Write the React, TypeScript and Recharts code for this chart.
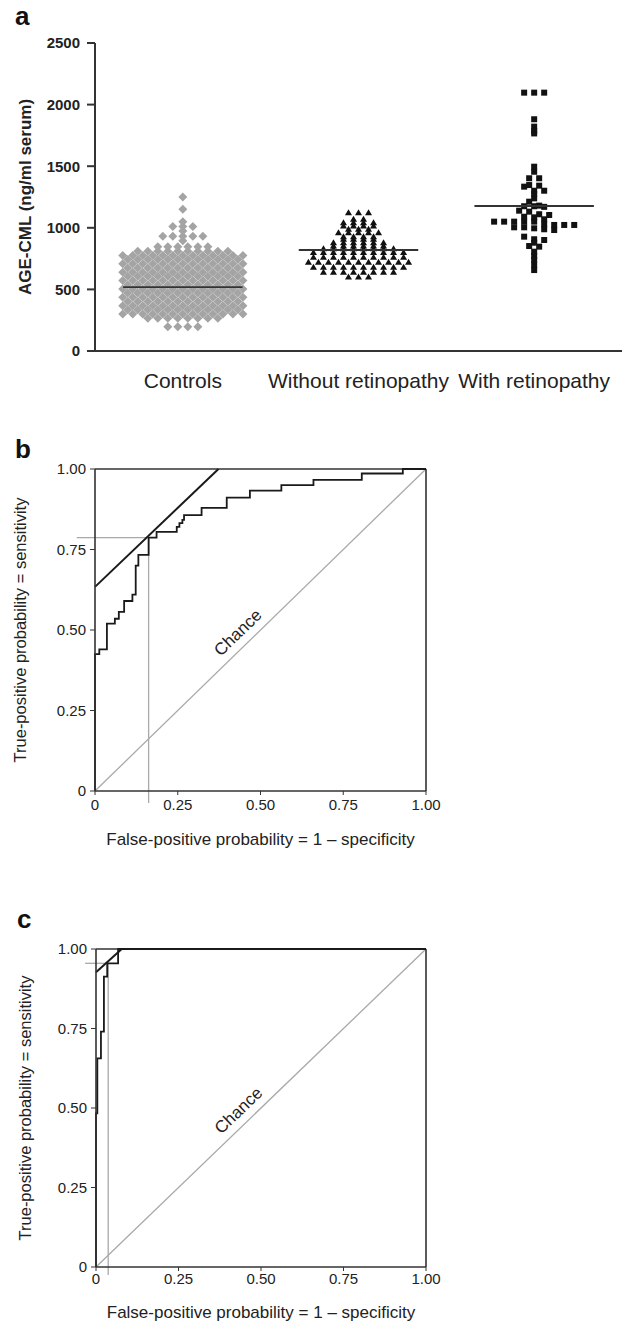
import React from 'react';
import {
  ScatterChart,
  Scatter,
  LineChart,
  Line,
  XAxis,
  YAxis,
  ReferenceLine,
  ReferenceDot,
} from 'recharts';

const FONT = '"Liberation Sans", Arial, Helvetica, sans-serif';
const INK = '#222';
const AXIS = '#333';
const GREY = '#a9a9a9';

// ---- panel a: AGE-CML per group ----
const GROUPS = ['Controls', 'Without retinopathy', 'With retinopathy'];
const GROUP_MEANS = [519, 820, 1177];
const CML_TICKS = [0, 500, 1000, 1500, 2000, 2500];

// controls: serum level (ng/ml) and how many subjects sit at that level
const CONTROL_LEVELS = [197, 266, 300, 334, 368, 402, 436, 470, 504, 538, 572, 606, 640, 674, 708, 742, 776, 810, 847, 895, 932, 975, 1010, 1050, 1150, 1250];
const CONTROL_COUNTS = [4, 8, 13, 12, 13, 12, 13, 12, 13, 12, 13, 12, 13, 12, 13, 12, 13, 10, 6, 1, 5, 1, 3, 1, 1, 1];

// without retinopathy: level and count
const NORET_LEVELS = [600, 640, 680, 720, 760, 800, 830, 852, 879, 907, 928, 960, 988, 1015, 1042, 1069, 1123];
const NORET_COUNTS = [3, 8, 10, 11, 10, 10, 8, 6, 6, 4, 4, 5, 3, 4, 4, 2, 3];

// with retinopathy: individual values
const RET_VALUES = [
  2097, 2097, 2097, 1881, 1821, 1786, 1766, 1496, 1455, 1402, 1402, 1347, 1342, 1334,
  1301, 1301, 1274, 1239, 1212, 1180, 1175, 1175, 1170, 1139, 1131, 1110, 1104, 1090,
  1085, 1069, 1050, 1050, 1050, 1050, 1050, 1028, 1023, 1023, 1023, 1004, 1004, 996,
  988, 982, 928, 907, 901, 879, 852, 847, 806, 771, 739, 698, 657,
];

// ---- panel b: ROC, AGE-CML ----
const ROC_B_FPR = [0, 0, 0.013, 0.036, 0.06, 0.072, 0.088, 0.113, 0.123, 0.131, 0.162, 0.186, 0.247, 0.255, 0.264, 0.269, 0.322, 0.398, 0.468, 0.563, 0.66, 0.806, 0.93, 1];
const ROC_B_TPR = [0, 0.425, 0.44, 0.52, 0.535, 0.556, 0.59, 0.61, 0.7, 0.733, 0.787, 0.805, 0.82, 0.832, 0.842, 0.857, 0.879, 0.911, 0.933, 0.95, 0.966, 0.986, 1, 1];
const TANGENT_B_FPR = [0, 0.373];
const TANGENT_B_TPR = [0.634, 1];
const CUT_B = [0.162, 0.787];

// ---- panel c: ROC, second marker ----
const ROC_C_FPR = [0, 0, 0.004, 0.015, 0.024, 0.034, 0.067, 1];
const ROC_C_TPR = [0, 0.483, 0.656, 0.74, 0.913, 0.955, 1, 1];
const TANGENT_C_FPR = [0, 0.078];
const TANGENT_C_TPR = [0.927, 1];
const CUT_C = [0.037, 0.955];

const PROB_TICKS = [0, 0.25, 0.5, 0.75, 1];

const STEP = 0.057; // one marker column in x units
const HALF_SPAN = 0.34; // half length of the mean bar

const swarmRows = (levels: number[], counts: number[], group: number) =>
  levels.flatMap((v, i) =>
    Array.from({ length: counts[i] }, (_, k) => ({ x: group + (k - (counts[i] - 1) / 2) * STEP, y: v }))
  );

const swarmValues = (values: number[], bin: number, group: number) => {
  const rows = new Map<number, number[]>();
  values.forEach((v) => {
    const key = Math.round(v / bin);
    rows.set(key, [...(rows.get(key) || []), v]);
  });
  return Array.from(rows.values()).flatMap((row) =>
    row.map((v, k) => ({ x: group + (k - (row.length - 1) / 2) * STEP, y: v }))
  );
};

const controls = swarmRows(CONTROL_LEVELS, CONTROL_COUNTS, 1);
const noRet = swarmRows(NORET_LEVELS, NORET_COUNTS, 2);
const withRet = swarmValues(RET_VALUES, 40, 3);
const meanBars = GROUP_MEANS.map((m, i) => [
  { x: i + 1 - HALF_SPAN, y: m },
  { x: i + 1 + HALF_SPAN, y: m },
]);

const Diamond = (p: any) => (
  <polygon
    points={`${p.cx},${p.cy - 4.5} ${p.cx + 4.5},${p.cy} ${p.cx},${p.cy + 4.5} ${p.cx - 4.5},${p.cy}`}
    fill="#a4a4a4"
  />
);
const Triangle = (p: any) => (
  <polygon points={`${p.cx},${p.cy - 3.5} ${p.cx + 3.5},${p.cy + 2.5} ${p.cx - 3.5},${p.cy + 2.5}`} fill="#111" />
);
const Square = (p: any) => <rect x={p.cx - 3} y={p.cy - 3} width={6} height={6} fill="#111" />;
const NoMark = () => <g />;

const fmtProb = (v: number) => (v === 0 ? '0' : v.toFixed(2));

const toPoints = (xs: number[], ys: number[]) => xs.map((x, i) => ({ x, y: ys[i] }));

interface RocProps {
  fpr: number[];
  tpr: number[];
  tanFpr: number[];
  tanTpr: number[];
  cut: number[];
  cfg: {
    height: number;
    xAxisHeight: number;
    yAxisWidth: number;
    tickMargin: number;
    titleOffset: number;
    yTitleOffset: number;
    lineLeft: number;
    lineBelow: number;
  };
}

const RocChart: React.FC<RocProps> = ({ fpr, tpr, tanFpr, tanTpr, cut, cfg }) => {
  const roc = toPoints(fpr, tpr);
  const tangent = toPoints(tanFpr, tanTpr);
  const textStyle = { fill: INK, fontSize: 15, fontFamily: FONT };
  return (
    <LineChart width={629} height={cfg.height} margin={{ top: 39, right: 629 - 426, bottom: 0, left: 0 }}>
      <XAxis
        type="number"
        dataKey="x"
        domain={[0, 1]}
        ticks={PROB_TICKS}
        interval={0}
        tickFormatter={fmtProb}
        height={cfg.xAxisHeight}
        tickSize={4}
        tickMargin={cfg.tickMargin}
        axisLine={{ stroke: AXIS, strokeWidth: 1.6 }}
        tickLine={{ stroke: AXIS }}
        tick={textStyle}
        label={{
          value: 'False-positive probability = 1 \u2013 specificity',
          position: 'insideBottom',
          offset: cfg.titleOffset,
          style: { ...textStyle, fontSize: 17 },
        }}
      />
      <YAxis
        type="number"
        domain={[0, 1]}
        ticks={PROB_TICKS}
        interval={0}
        tickFormatter={fmtProb}
        width={cfg.yAxisWidth}
        tickSize={5}
        tickMargin={4}
        axisLine={{ stroke: AXIS, strokeWidth: 1.6 }}
        tickLine={{ stroke: AXIS }}
        tick={textStyle}
        label={{
          value: 'True-positive probability = sensitivity',
          angle: -90,
          position: 'insideLeft',
          offset: cfg.yTitleOffset,
          style: { ...textStyle, fontSize: 16.5, textAnchor: 'middle' },
        }}
      />
      <ReferenceLine segment={[{ x: 0, y: 0 }, { x: 1, y: 1 }]} stroke={GREY} strokeWidth={1.3} />
      <ReferenceLine
        segment={[{ x: cfg.lineLeft, y: cut[1] }, { x: cut[0], y: cut[1] }]}
        stroke={GREY}
        strokeWidth={1.3}
        ifOverflow="visible"
      />
      <ReferenceLine
        segment={[{ x: cut[0], y: cfg.lineBelow }, { x: cut[0], y: cut[1] }]}
        stroke={GREY}
        strokeWidth={1.3}
        ifOverflow="visible"
      />
      <ReferenceLine y={1} stroke={AXIS} strokeWidth={1.6} />
      <ReferenceLine x={1} stroke={AXIS} strokeWidth={1.6} />
      <Line data={roc} dataKey="y" type="stepAfter" stroke="#1a1a1a" strokeWidth={1.8} dot={false} isAnimationActive={false} />
      <Line data={tangent} dataKey="y" type="linear" stroke="#1a1a1a" strokeWidth={2} dot={false} isAnimationActive={false} />
      <ReferenceDot
        x={0.432}
        y={0.492}
        r={0}
        shape={(p: any) => (
          <text
            x={p.cx}
            y={p.cy}
            textAnchor="middle"
            dominantBaseline="central"
            transform={`rotate(-44 ${p.cx} ${p.cy})`}
            style={{ fill: INK, fontSize: 17, fontFamily: FONT }}
          >
            Chance
          </text>
        )}
      />
    </LineChart>
  );
};

const App: React.FC = () => {
  return (
    <div style={{ position: 'absolute', left: 0, top: 0, width: 629, height: 1322, background: '#fff', fontFamily: FONT }}>
      <div style={{ position: 'absolute', left: 0, top: 0 }}>
        <ScatterChart width={629} height={400} margin={{ top: 43, right: 7, bottom: 0, left: 0 }}>
          <XAxis
            type="number"
            dataKey="x"
            domain={[0.5, 3.5]}
            ticks={[1, 2, 3]}
            interval={0}
            tickFormatter={(v: number) => GROUPS[v - 1]}
            height={49}
            tickSize={0}
            tickMargin={22}
            tickLine={false}
            axisLine={{ stroke: AXIS, strokeWidth: 2 }}
            tick={{ fill: INK, fontSize: 21, fontFamily: FONT }}
          />
          <YAxis
            type="number"
            dataKey="y"
            domain={[0, 2500]}
            ticks={CML_TICKS}
            interval={0}
            width={95}
            tickSize={8}
            tickMargin={7}
            axisLine={{ stroke: AXIS, strokeWidth: 2 }}
            tickLine={{ stroke: AXIS, strokeWidth: 2 }}
            tick={{ fill: INK, fontSize: 15, fontWeight: 'bold', fontFamily: FONT }}
            label={{
              value: 'AGE-CML (ng/ml serum)',
              angle: -90,
              position: 'insideLeft',
              offset: 25,
              style: { fill: INK, fontSize: 17, fontWeight: 'bold', fontFamily: FONT, textAnchor: 'middle' },
            }}
          />
          <Scatter data={controls} shape={Diamond} isAnimationActive={false} />
          <Scatter data={noRet} shape={Triangle} isAnimationActive={false} />
          <Scatter data={withRet} shape={Square} isAnimationActive={false} />
          {meanBars.map((bar, i) => (
            <Scatter
              key={GROUPS[i]}
              data={bar}
              shape={NoMark}
              line={{ stroke: AXIS, strokeWidth: 1.8 }}
              isAnimationActive={false}
            />
          ))}
        </ScatterChart>
      </div>

      <div style={{ position: 'absolute', left: 0, top: 430 }}>
        <RocChart
          fpr={ROC_B_FPR}
          tpr={ROC_B_TPR}
          tanFpr={TANGENT_B_FPR}
          tanTpr={TANGENT_B_TPR}
          cut={CUT_B}
          cfg={{ height: 430, xAxisHeight: 69, yAxisWidth: 95, tickMargin: 4, titleOffset: 15, yTitleOffset: 20, lineLeft: -0.055, lineBelow: -0.037 }}
        />
      </div>

      <div style={{ position: 'absolute', left: 0, top: 910 }}>
        <RocChart
          fpr={ROC_C_FPR}
          tpr={ROC_C_TPR}
          tanFpr={TANGENT_C_FPR}
          tanTpr={TANGENT_C_TPR}
          cut={CUT_C}
          cfg={{ height: 412, xAxisHeight: 55, yAxisWidth: 96, tickMargin: 2, titleOffset: 4, yTitleOffset: 25, lineLeft: -0.033, lineBelow: -0.025 }}
        />
      </div>

      <svg width={629} height={1322} style={{ position: 'absolute', left: 0, top: 0, pointerEvents: 'none' }}>
        <g style={{ fontFamily: FONT, fontWeight: 'bold', fontSize: 26, fill: '#111' }}>
          <text x={15} y={25}>a</text>
          <text x={15} y={458}>b</text>
          <text x={17} y={928}>c</text>
        </g>
      </svg>
    </div>
  );
};

export default App;
